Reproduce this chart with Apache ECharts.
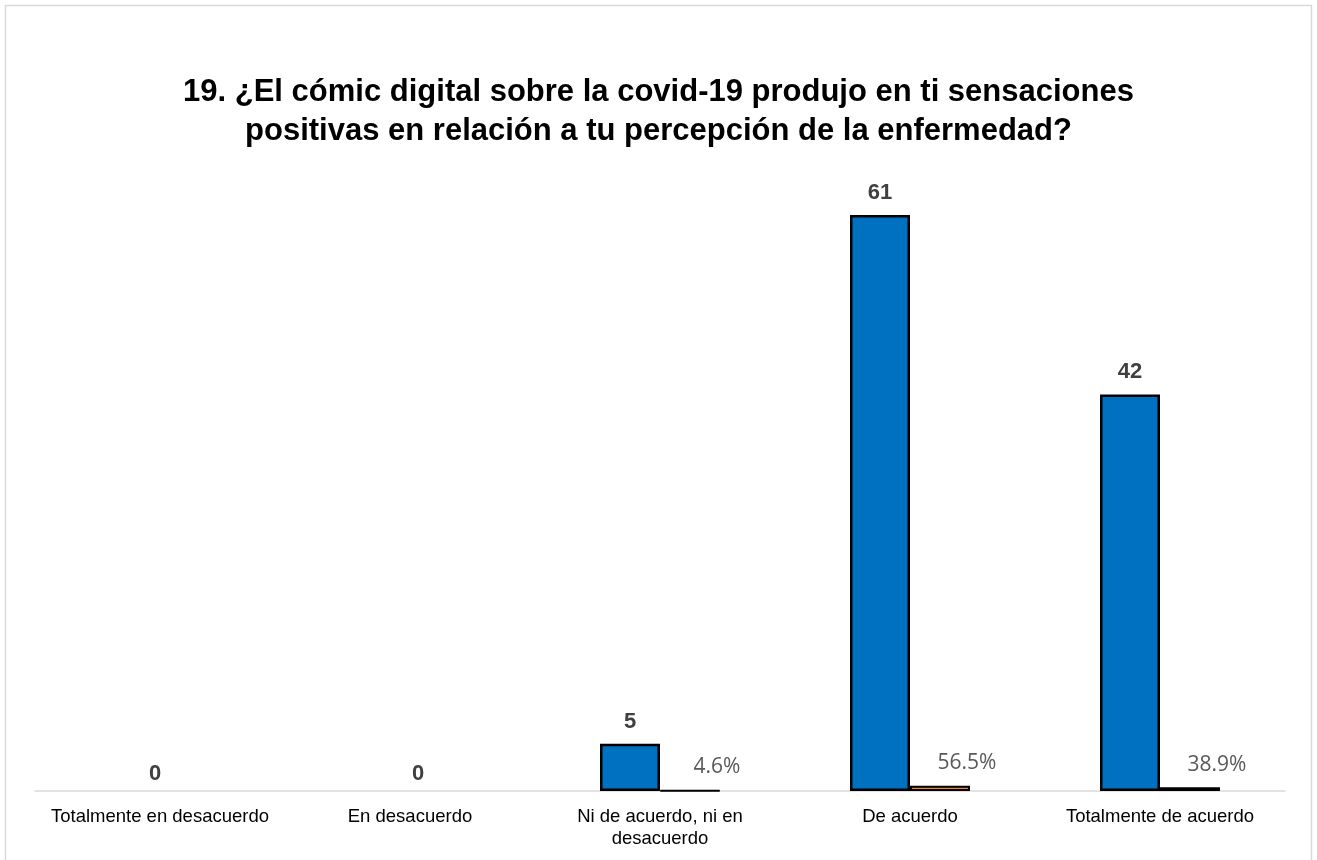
<!DOCTYPE html>
<html>
<head>
<meta charset="utf-8">
<script src="https://cdn.jsdelivr.net/npm/echarts@6/dist/echarts.min.js"></script>
<style>
html,body{margin:0;padding:0;background:#fff;}
#c{width:1317px;height:860px;}
</style>
</head>
<body>
<div id="c"></div>
<script>
var categories = ['Totalmente en desacuerdo', 'En desacuerdo', 'Ni de acuerdo, ni en\ndesacuerdo', 'De acuerdo', 'Totalmente de acuerdo'];
var counts = [0, 0, 5, 61, 42];
var percents = [0, 0, 0.046, 0.565, 0.389];
var titleText = '19. ¿El cómic digital sobre la covid-19 produjo en ti sensaciones\npositivas en relación a tu percepción de la enfermedad?';

var chart = echarts.init(document.getElementById('c'), null, {renderer: 'canvas'});

var countData = counts.map(function (v, i) {
  if (v === 0) {
    return {value: v, itemStyle: {borderWidth: 0}, label: {offset: [i === 0 ? 25 : 38, 5]}};
  }
  return v;
});
var pctData = percents.map(function (v) {
  if (v === 0) {
    return {value: v, itemStyle: {borderWidth: 0}};
  }
  return v;
});

var FONT = "'Liberation Sans', Arial, Helvetica, sans-serif";

chart.setOption({
  animation: false,
  backgroundColor: '#fff',
  graphic: [{
    type: 'rect',
    shape: {x: 5.5, y: 5.5, width: 1306, height: 900},
    style: {fill: 'none', stroke: '#d9d9d9', lineWidth: 1.5},
    silent: true
  }],
  title: {
    text: titleText,
    left: 'center',
    top: 68,
    textStyle: {
      fontFamily: FONT,
      fontWeight: 'bold',
      fontSize: 31,
      lineHeight: 39,
      color: '#000'
    }
  },
  grid: {left: 35, right: 32, top: 130, bottom: 69, containLabel: false},
  xAxis: {
    type: 'category',
    data: categories,
    axisLine: {show: true, lineStyle: {color: '#d9d9d9', width: 1.5}},
    axisTick: {show: false},
    axisLabel: {
      interval: 0,
      margin: 15,
      fontFamily: FONT,
      fontSize: 18.5,
      lineHeight: 22,
      color: '#000'
    }
  },
  yAxis: {
    type: 'value',
    min: 0,
    max: 70,
    show: false,
    splitLine: {show: false}
  },
  series: [{
    name: 'Cantidad',
    type: 'bar',
    data: countData,
    barWidth: 60,
    barGap: '0%',
    itemStyle: {color: '#0070C0', borderColor: '#000', borderWidth: 2.5},
    label: {
      show: true,
      position: 'top',
      distance: 11,
      fontFamily: FONT,
      fontWeight: 'bold',
      fontSize: 22,
      color: '#404040'
    }
  }, {
    name: 'Porcentaje',
    type: 'bar',
    data: pctData,
    barWidth: 60,
    barGap: '0%',
    itemStyle: {color: '#ED7D31', borderColor: '#000', borderWidth: 2},
    label: {
      show: true,
      position: 'top',
      distance: 12,
      offset: [27, 0],
      fontFamily: "'Open Sans', sans-serif",
      fontSize: 21,
      color: '#595959',
      formatter: function (p) {
        return p.value ? (p.value * 100).toFixed(1) + '%' : '';
      }
    }
  }]
});
</script>
</body>
</html>
